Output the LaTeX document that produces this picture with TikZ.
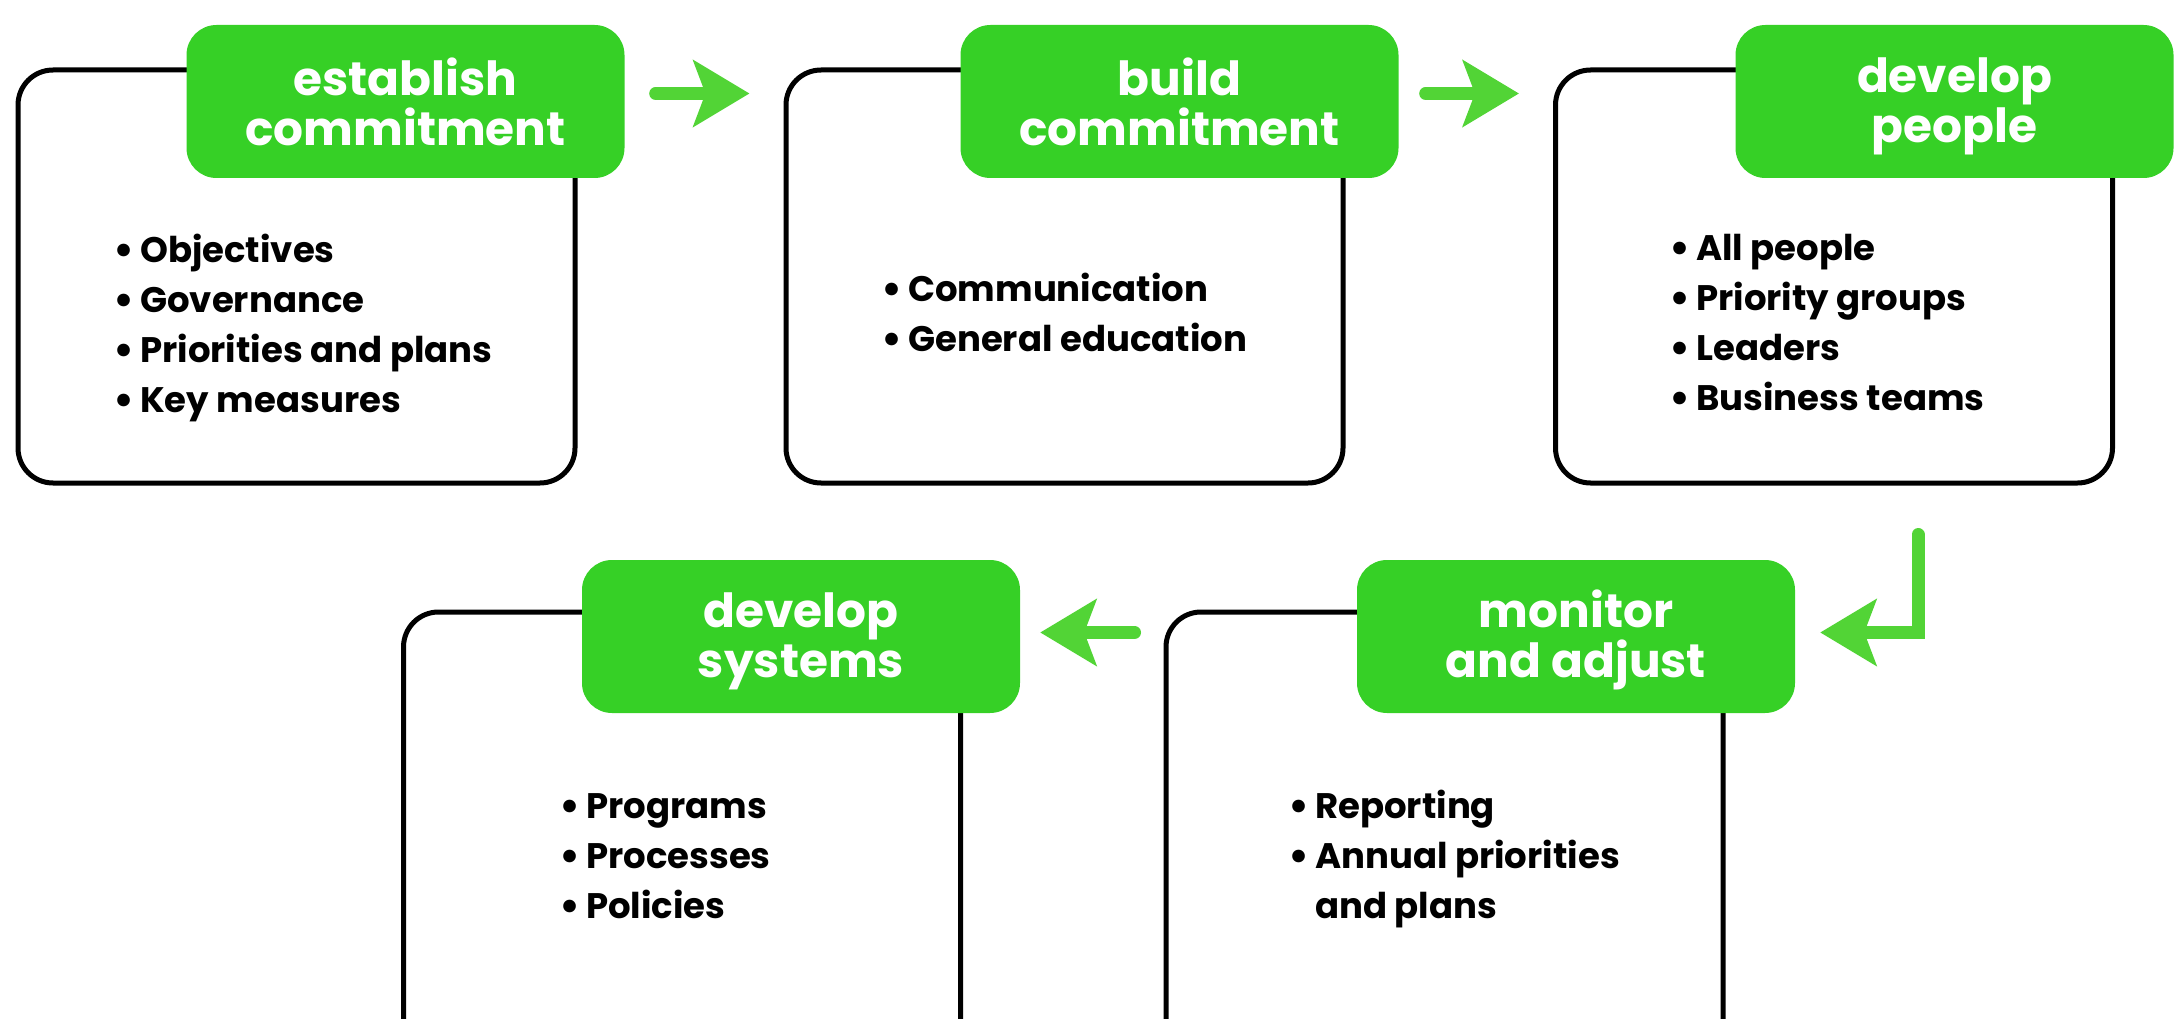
\documentclass[tikz,border=0pt]{standalone}
\usepackage{fontspec}
\setmainfont{Poppins}
\usepackage{tikz}
\usetikzlibrary{arrows.meta, positioning}

\definecolor{kopfgruen}{RGB}{54,208,38}
\definecolor{pfeilgruen}{RGB}{82,212,54}

% Aufzaehlungspunkt mit fester Breite
\newcommand{\punkt}{\makebox[22pt][l]{\hspace{-5pt}\fontsize{42}{50}\selectfont\raisebox{-2pt}{\textbullet}}}
% zweizeilige Ueberschrift, Streben fuer gleiche Grundlinien
\newcommand{\kopfzeilen}[2]{\rule{0pt}{44pt}#1\\#2\rule[-6pt]{0pt}{6pt}}

\begin{document}
\begin{tikzpicture}[x=1pt, y=-1pt,
			kasten/.style={draw, line width=5pt, rounded corners=35pt, minimum width=557pt, minimum height=#1, inner sep=0pt},
			kasten/.default=413pt,
			kopf/.style={fill=kopfgruen, text=white, rounded corners=30pt, minimum width=438pt, minimum height=153pt,
				inner sep=0pt, align=center, font={\fontsize{47}{50}\selectfont\bfseries\lineskiplimit=-50pt}},
			eintrag/.style={anchor=base west, inner sep=0pt, font={\fontsize{35.5}{50}\selectfont\bfseries}},
			fluss/.style={draw=pfeilgruen, line width=13pt, line cap=round, -{Stealth[length=56pt, width=66pt, inset=12pt]}}]
			\useasboundingbox (0,0) rectangle (2182,1019);
			\clip (0,0) rectangle (2182,1019); %Bildbereich
			% Kaesten zeichnen
			\node[kasten] (k1) at (296.5,276.5) {};
			\node[kasten] (k2) at (1064.5,276.5) {};
			\node[kasten] (k3) at (1834,276.5) {};
			\node[kasten=448pt] (k4) at (1444.5,836) {};
			\node[kasten=448pt] (k5) at (682,836) {};
			% Ueberschriften
			\node[kopf] (l1) at (405.5,101.5) {\kopfzeilen{establish}{commitment}};
			\node[kopf] (l2) at (1179.5,101.5) {\kopfzeilen{build}{commitment}};
			\node[kopf] (l3) at (1954.5,101.5) {\kopfzeilen{develop}{people}};
			\node[kopf] (l4) at (1576,636.5) {\kopfzeilen{monitor}{and adjust}};
			\node[kopf] (l5) at (801,636.5) {\kopfzeilen{develop}{systems}};
			% Aufzaehlungen
			\foreach \t [count=\i] in {Objectives, Governance, Priorities and plans, Key measures}
				\node[eintrag] (a\i) at (118,212+50*\i) {\punkt\t};
			\foreach \t [count=\i] in {Communication, General education}
				\node[eintrag] (b\i) at (886,251+50*\i) {\punkt\t};
			\foreach \t [count=\i] in {All people, Priority groups, Leaders, Business teams}
				\node[eintrag] (c\i) at (1674,210+50*\i) {\punkt\t};
			\foreach \t [count=\i] in {Reporting, Annual priorities}
				\node[eintrag] (d\i) at (1293,768+50*\i) {\punkt\t};
			\node[eintrag] (d3) at (1293,918) {\hspace{22pt}and plans};
			\foreach \t [count=\i] in {Programs, Processes, Policies}
				\node[eintrag] (e\i) at (564,768+50*\i) {\punkt\t};
			% Pfeile
			\draw[fluss] ([xshift=31pt,yshift=8pt]l1.east) -- ([xshift=-34pt,yshift=8pt]k2.west |- l1.east);
			\draw[fluss] ([xshift=27pt,yshift=8pt]l2.east) -- ([xshift=-34pt,yshift=8pt]k3.west |- l2.east);
			\draw[fluss] ([xshift=84pt,yshift=-49pt]k3.south) |- ([xshift=25pt,yshift=4pt]l4.east);
			\draw[fluss] ([xshift=-29pt,yshift=4pt]k4.west |- l5.east) -- ([xshift=20pt,yshift=4pt]l5.east);
		\end{tikzpicture}
\end{document}
